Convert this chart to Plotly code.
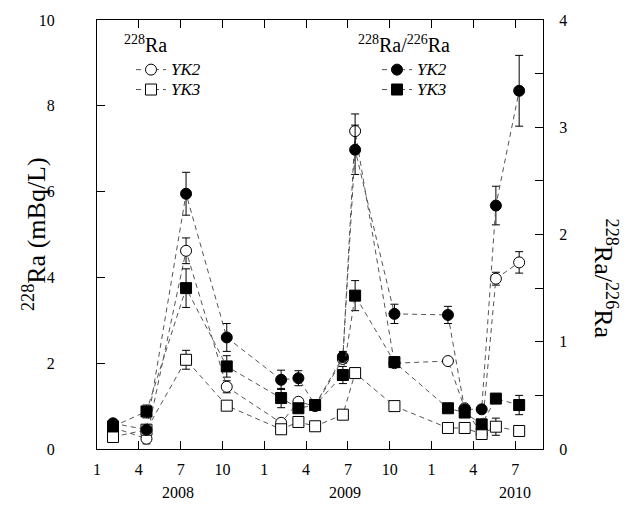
import plotly.graph_objects as go

# month index: Jan 2008 = 1
months = [2.15, 4.55, 7.39, 10.31, 14.21, 15.45, 16.65, 18.64, 19.52, 22.34, 26.18, 27.38, 28.6, 29.62, 31.29]

ra_yk2 = [0.5, 0.24, 4.62, 1.45, 0.61, 1.1, 1.0, 2.1, 7.41, 2.0, 2.05, 0.95, 0.35, 3.97, 4.35]
ra_yk2_err = [0.05, 0.12, 0.3, 0.14, 0.05, 0.05, 0.05, 0.1, 0.4, 0.08, 0.05, 0.05, 0.05, 0.15, 0.25]
ra_yk3 = [0.28, 0.45, 2.08, 1.01, 0.46, 0.63, 0.53, 0.80, 1.77, 1.0, 0.49, 0.49, 0.35, 0.52, 0.42]
ra_yk3_err = [0.03, 0.05, 0.22, 0.05, 0.03, 0.03, 0.03, 0.05, 0.1, 0.05, 0.03, 0.03, 0.1, 0.2, 0.03]

rt_yk2 = [0.24, 0.18, 2.38, 1.04, 0.645, 0.66, 0.41, 0.86, 2.79, 1.26, 1.25, 0.37, 0.37, 2.27, 3.34]
rt_yk2_err = [0.03, 0.03, 0.2, 0.13, 0.09, 0.07, 0.03, 0.05, 0.23, 0.09, 0.08, 0.03, 0.03, 0.18, 0.33]
rt_yk3 = [0.21, 0.35, 1.5, 0.77, 0.475, 0.38, 0.41, 0.69, 1.43, 0.81, 0.38, 0.34, 0.23, 0.47, 0.41]
rt_yk3_err = [0.03, 0.06, 0.18, 0.1, 0.09, 0.03, 0.03, 0.08, 0.14, 0.05, 0.03, 0.03, 0.03, 0.03, 0.09]

x_tickvals = [1, 4, 7, 10, 13, 16, 19, 22, 25, 28, 31]
x_ticktext = ["1", "4", "7", "10", "1", "4", "7", "10", "1", "4", "7"]
years = ["2008", "2009", "2010"]
year_pos = [6.8, 18.8, 31.0]

FONT = "Liberation Serif, Times New Roman, serif"
LINE = dict(color="#555555", width=1, dash="5px,4px")
ERR = dict(color="black", thickness=1, width=4)


def lname(s):
    return '<span style="font-size:17px"><i>' + s + '</i></span>'


fig = go.Figure()

fig.add_trace(go.Scatter(
    x=months, y=ra_yk2, mode="lines+markers", name=lname("YK2"), legend="legend",
    line=LINE, error_y=dict(type="data", array=ra_yk2_err, **ERR),
    marker=dict(symbol="circle", size=11, color="white", line=dict(color="black", width=1))))
fig.add_trace(go.Scatter(
    x=months, y=ra_yk3, mode="lines+markers", name=lname("YK3"), legend="legend",
    line=LINE, error_y=dict(type="data", array=ra_yk3_err, **ERR),
    marker=dict(symbol="square", size=11, color="white", line=dict(color="black", width=1))))
fig.add_trace(go.Scatter(
    x=months, y=rt_yk2, mode="lines+markers", name=lname("YK2"), legend="legend2", yaxis="y2",
    line=LINE, error_y=dict(type="data", array=rt_yk2_err, **ERR),
    marker=dict(symbol="circle", size=11, color="black", line=dict(color="black", width=1))))
fig.add_trace(go.Scatter(
    x=months, y=rt_yk3, mode="lines+markers", name=lname("YK3"), legend="legend2", yaxis="y2",
    line=LINE, error_y=dict(type="data", array=rt_yk3_err, **ERR),
    marker=dict(symbol="square", size=11, color="black", line=dict(color="black", width=1))))

L, R, T, B = 97, 85, 16, 56
W, H = 628, 505
pw = W - L - R
ph = H - T - B


def px2x(px):
    return (px - L) / pw


def px2y(py):
    return 1 - (py - T) / ph


annotations = []
for yr, pos in zip(years, year_pos):
    annotations.append(dict(x=pos, y=0, xref="x", yref="paper", text=yr, showarrow=False,
                            yanchor="middle", yshift=-43,
                            font=dict(size=16, family=FONT, color="black")))
annotations.append(dict(x=px2x(34), y=px2y(232), xref="paper", yref="paper",
                        xanchor="center", yanchor="middle",
                        text="<sup>228</sup>Ra (mBq/L)", textangle=-90, showarrow=False,
                        font=dict(size=26, family=FONT, color="black")))
annotations.append(dict(x=px2x(605), y=px2y(277), xref="paper", yref="paper",
                        xanchor="center", yanchor="middle",
                        text="<sup>228</sup>Ra/<sup>226</sup>Ra", textangle=90, showarrow=False,
                        font=dict(size=26, family=FONT, color="black")))
# legend titles
annotations.append(dict(x=px2x(122), y=px2y(40), xref="paper", yref="paper",
                        xanchor="left", yanchor="middle", text="<sup>228</sup>Ra", showarrow=False,
                        font=dict(size=20, family=FONT, color="black")))
annotations.append(dict(x=px2x(356), y=px2y(40), xref="paper", yref="paper",
                        xanchor="left", yanchor="middle", text="<sup>228</sup>Ra/<sup>226</sup>Ra",
                        showarrow=False, font=dict(size=20, family=FONT, color="black")))

LEG = dict(yanchor="top", xanchor="left", bgcolor="rgba(0,0,0,0)",
           font=dict(size=13, family=FONT, color="black"), itemwidth=30, tracegroupgap=0)

fig.update_layout(
    width=W, height=H,
    margin=dict(l=L, r=R, t=T, b=B),
    paper_bgcolor="white", plot_bgcolor="white",
    font=dict(family=FONT, color="black", size=16),
    showlegend=True,
    legend=dict(x=px2x(131), y=px2y(51), **LEG),
    legend2=dict(x=px2x(377), y=px2y(51), **LEG),
    xaxis=dict(range=[1, 33], tickvals=x_tickvals, ticktext=x_ticktext, ticks="inside",
               ticklen=8, tickwidth=1, tickcolor="black", showline=True, linecolor="black",
               linewidth=1, mirror="ticks", showgrid=False, zeroline=False,
               tickfont=dict(size=16, family=FONT, color="black"), ticklabelstandoff=6),
    yaxis=dict(range=[0, 10], dtick=2, ticks="inside", ticklen=8, tickwidth=1, tickcolor="black",
               showline=True, linecolor="black", linewidth=1, showgrid=False, zeroline=False,
               tickfont=dict(size=16, family=FONT, color="black"), ticklabelstandoff=38),
    yaxis2=dict(range=[0, 4], dtick=1, overlaying="y", side="right", ticks="inside", ticklen=8,
                tickwidth=1, tickcolor="black", showline=True, linecolor="black", linewidth=1,
                showgrid=False, zeroline=False, tickfont=dict(size=16, family=FONT, color="black"),
                ticklabelstandoff=12,
                minor=dict(dtick=0.5, ticks="inside", ticklen=8, tickwidth=1, tickcolor="black",
                           showgrid=False)),
    annotations=annotations,
)

fig.write_html("out.html")
